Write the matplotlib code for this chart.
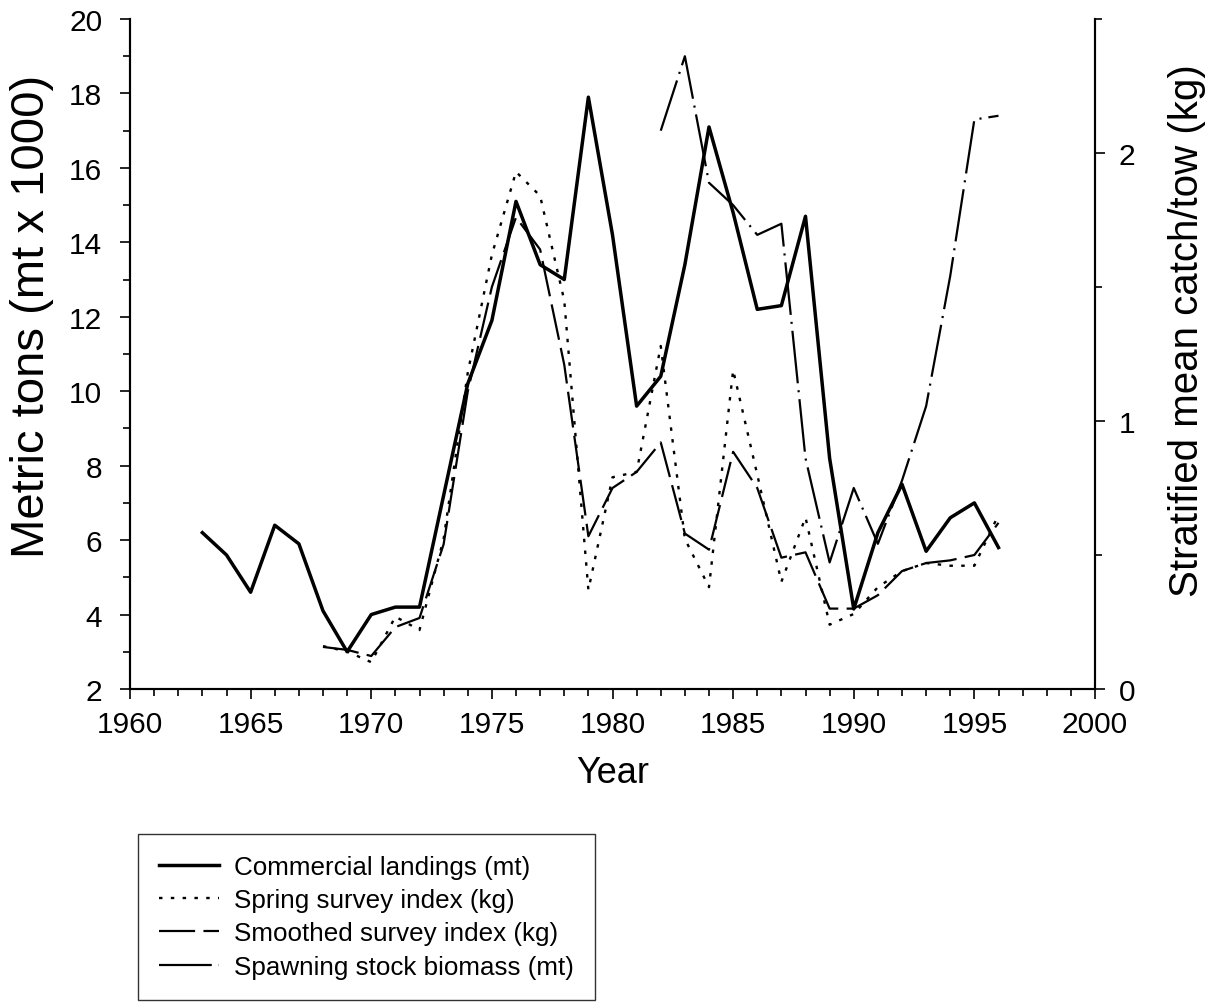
import matplotlib
matplotlib.use("Agg")
import matplotlib.pyplot as plt
from matplotlib.lines import Line2D
from matplotlib.ticker import MultipleLocator
import numpy as np

plt.rcParams['font.family'] = ['Liberation Sans', 'DejaVu Sans']
plt.rcParams['lines.scale_dashes'] = False

# commercial landings, thousands of metric tons
land_years = np.arange(1963, 1997)
landings = [6.2, 5.6, 4.6, 6.4, 5.9, 4.1, 3.0, 4.0, 4.2, 4.2,
            7.2, 10.2, 11.9, 15.1, 13.4, 13.0, 17.9, 14.2, 9.6, 10.4,
            13.4, 17.1, 14.8, 12.2, 12.3, 14.7, 8.2, 4.15, 6.2, 7.5,
            5.7, 6.6, 7.0, 5.8]

# spring survey, stratified mean catch/tow (kg)
survey_years = np.arange(1968, 1997)
spring = [0.16, 0.14, 0.10, 0.27, 0.22, 0.56, 1.18, 1.62, 1.93, 1.84,
          1.45, 0.37, 0.79, 0.81, 1.28, 0.56, 0.38, 1.19, 0.80, 0.40,
          0.64, 0.24, 0.28, 0.38, 0.44, 0.47, 0.46, 0.46, 0.65]
smoothed = [0.157, 0.146, 0.123, 0.231, 0.265, 0.54, 1.11, 1.50, 1.76, 1.64,
            1.21, 0.57, 0.75, 0.81, 0.92, 0.58, 0.52, 0.885, 0.75, 0.49,
            0.51, 0.30, 0.30, 0.35, 0.44, 0.47, 0.48, 0.50, 0.62]

# spawning stock biomass, thousands of metric tons
ssb_years = np.arange(1982, 1997)
ssb = [17.0, 19.0, 15.6, 15.0, 14.2, 14.5, 8.2, 5.4, 7.4, 5.9,
       7.6, 9.6, 13.1, 17.3, 17.4]

labels = ['Commercial landings (mt)', 'Spring survey index (kg)',
          'Smoothed survey index (kg)', 'Spawning stock biomass (mt)']

solid_style = dict(color='black', lw=2.5, linestyle='-')
spring_style = dict(color='black', lw=1.7, linestyle=(0, (2.5, 6)))
smooth_style = dict(color='black', lw=1.6, linestyle=(0, (26, 6)))
ssb_style = dict(color='black', lw=1.6, linestyle=(0, (38, 5, 1.5, 5)))

fig = plt.figure(figsize=(12.1, 10.04), dpi=100)
ax = fig.add_axes([130 / 1210, 1 - 690 / 1004, 965 / 1210, 670 / 1004])
ax2 = ax.twinx()

ax.plot(land_years, landings, **solid_style)
ax.plot(ssb_years, ssb, **ssb_style)
ax2.plot(survey_years, spring, **spring_style)
ax2.plot(survey_years, smoothed, **smooth_style)

ax.set_xlim(1960, 2000)
ax.set_ylim(2, 20)
ax2.set_ylim(0, 2.5)

ax.xaxis.set_major_locator(MultipleLocator(5))
ax.xaxis.set_minor_locator(MultipleLocator(1))
ax.yaxis.set_major_locator(MultipleLocator(2))
ax.yaxis.set_minor_locator(MultipleLocator(1))
ax2.yaxis.set_major_locator(MultipleLocator(1))
ax2.yaxis.set_minor_locator(MultipleLocator(0.5))

for a in (ax, ax2):
    a.spines['top'].set_visible(False)
    for s in a.spines.values():
        s.set_linewidth(1.5)
    a.tick_params(which='major', length=7, width=1.2, labelsize=21.5)
    a.tick_params(which='minor', length=5, width=1.2)

ax.tick_params(axis='x', which='major', pad=8)
ax.tick_params(axis='y', which='major', pad=13)
ax2.tick_params(axis='y', which='major', pad=10)

ax.set_xlabel('Year', fontsize=26)
ax.set_ylabel('Metric tons (mt x 1000)', fontsize=34)
ax2.set_ylabel('Stratified mean catch/tow (kg)', fontsize=29)
ax.xaxis.set_label_coords(0.5, -0.098)
ax.yaxis.set_label_coords(-0.079, 0.558)
ax2.yaxis.set_label_coords(1.0756, 0.537)

handles = [Line2D([], [], **solid_style), Line2D([], [], **spring_style),
           Line2D([], [], **smooth_style), Line2D([], [], **ssb_style)]
leg = ax.legend(handles, labels, loc='upper left',
                bbox_to_anchor=(138 / 1210, 1 - 835 / 1004),
                bbox_transform=fig.transFigure, borderaxespad=0,
                fontsize=18.7, frameon=True, fancybox=False,
                handlelength=2.3, handletextpad=0.6, labelspacing=0.36,
                borderpad=0.8)
leg.get_frame().set_edgecolor('black')
leg.get_frame().set_linewidth(1.0)

fig.savefig('out.png', dpi=100)
